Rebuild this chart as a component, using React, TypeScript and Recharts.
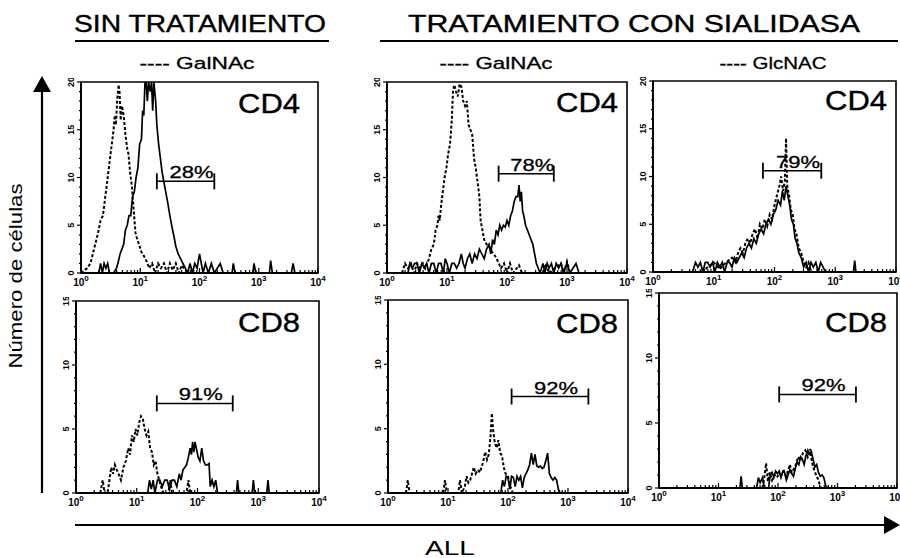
import React from 'react';
import { LineChart, Line, XAxis, YAxis, ReferenceLine, ReferenceArea } from 'recharts';

type Pt = [number, number];

// x = log10 of fluorescence (10^0 .. 10^4), y = número de células

// SIN TRATAMIENTO, CD4
const SIN_CD4_SOLID: Pt[] = [
  [0.3, 0], [0.33, 1], [0.36, 0], [0.39, 1], [0.42, 0.5], [0.45, 1], [0.48, 0], [0.55, 0], [0.6, 0.5],
  [0.63, 1.2], [0.66, 2], [0.69, 2.5], [0.72, 3], [0.75, 4.5], [0.78, 5], [0.81, 6], [0.84, 6], [0.87, 8],
  [0.9, 8.5], [0.93, 10], [0.96, 11], [0.99, 13.5], [1.02, 14], [1.04, 17], [1.06, 16.5], [1.08, 20],
  [1.1, 20], [1.12, 18], [1.14, 20], [1.17, 19], [1.19, 20], [1.21, 17], [1.23, 20], [1.26, 18],
  [1.28, 15.5], [1.31, 13.5], [1.34, 12], [1.37, 10.5], [1.4, 9.5], [1.43, 8.5], [1.46, 7.5], [1.5, 6],
  [1.53, 5], [1.57, 3.8], [1.6, 2.8], [1.64, 2], [1.68, 1.5], [1.72, 1], [1.76, 0.5], [1.8, 0], [1.84, 1],
  [1.88, 0], [1.92, 1], [1.96, 0.5], [2.0, 2], [2.03, 1], [2.06, 0], [2.1, 1], [2.15, 0], [2.2, 1],
  [2.25, 0], [2.35, 1], [2.4, 0], [2.55, 0], [2.57, 1], [2.6, 0], [2.9, 0], [2.92, 1], [2.95, 0],
  [3.18, 0], [3.2, 1.3], [3.23, 0], [3.55, 0], [3.58, 1], [3.61, 0], [4, 0],
];
const SIN_CD4_DASHED: Pt[] = [
  [0, 0], [0.1, 0.5], [0.16, 1], [0.22, 2.5], [0.28, 4], [0.33, 5.5], [0.37, 6], [0.4, 7.5], [0.43, 9],
  [0.46, 10.5], [0.49, 12], [0.52, 13.5], [0.55, 15], [0.57, 16.5], [0.59, 15.5], [0.61, 18], [0.635, 19.7],
  [0.65, 19], [0.67, 16], [0.69, 17.5], [0.72, 16.5], [0.75, 14.5], [0.78, 13], [0.8, 12.5], [0.83, 10.5],
  [0.86, 9], [0.89, 6.5], [0.92, 4.2], [0.95, 3.5], [0.98, 3], [1.02, 2.2], [1.06, 1.8], [1.11, 1.2],
  [1.15, 0.5], [1.2, 1], [1.25, 0], [1.3, 1], [1.35, 0.5], [1.4, 1], [1.45, 0], [1.5, 1], [1.55, 0.3],
  [1.6, 1], [1.65, 0], [1.7, 0.8], [1.8, 0],
];

// TRATAMIENTO CON SIALIDASA, GalNAc, CD4
const SIA_GAL_CD4_SOLID: Pt[] = [
  [0.35, 0], [0.38, 1], [0.42, 0.5], [0.46, 1], [0.5, 1], [0.54, 0], [0.58, 1], [0.62, 0.5], [0.66, 1],
  [0.7, 0], [0.74, 1], [0.78, 1], [0.82, 0], [0.86, 1], [0.9, 1], [0.94, 0], [0.97, 1.5], [1.0, 1],
  [1.04, 0], [1.08, 1], [1.12, 1], [1.16, 0.5], [1.2, 1], [1.24, 2], [1.27, 1], [1.3, 0.5], [1.34, 1.5],
  [1.38, 2], [1.42, 1], [1.46, 2], [1.5, 1.5], [1.54, 2.5], [1.58, 2], [1.62, 1.5], [1.66, 2.5], [1.7, 3],
  [1.73, 2], [1.76, 3.5], [1.79, 3], [1.82, 4.5], [1.85, 4], [1.88, 5], [1.91, 4.5], [1.94, 5], [1.97, 4.8],
  [2.0, 5.5], [2.03, 5], [2.06, 6], [2.09, 6.5], [2.12, 7.5], [2.15, 8], [2.18, 8], [2.2, 9.2], [2.22, 7.5],
  [2.24, 8.5], [2.26, 6.5], [2.28, 6], [2.31, 5], [2.34, 4.5], [2.37, 4], [2.4, 3.5], [2.43, 3], [2.46, 2],
  [2.49, 1], [2.52, 0.5], [2.55, 0], [2.6, 1], [2.63, 0], [2.67, 1], [2.7, 0.5], [2.74, 1], [2.78, 0],
  [2.82, 1], [2.86, 0.5], [2.9, 1], [2.94, 0], [3.0, 1], [3.05, 0], [3.15, 1], [3.2, 0],
];
const SIA_GAL_CD4_DASHED: Pt[] = [
  [0.25, 0], [0.3, 1], [0.35, 0.5], [0.4, 1], [0.45, 0], [0.5, 1], [0.55, 0.5], [0.6, 1], [0.64, 0.5],
  [0.67, 1], [0.7, 1.5], [0.74, 2.5], [0.78, 3], [0.81, 4.5], [0.84, 5], [0.86, 6], [0.88, 5.5], [0.9, 7],
  [0.93, 8.5], [0.96, 10], [0.99, 11], [1.02, 12.5], [1.05, 13.5], [1.08, 16], [1.1, 19], [1.12, 19.7],
  [1.15, 19], [1.18, 18.5], [1.21, 19.8], [1.24, 19.5], [1.27, 18], [1.3, 17.5], [1.33, 18], [1.36, 15.5],
  [1.39, 15], [1.42, 14.5], [1.45, 12], [1.48, 11], [1.51, 9.5], [1.54, 8], [1.56, 5.5], [1.59, 4.5],
  [1.62, 3.5], [1.66, 3], [1.7, 2.8], [1.75, 2.2], [1.8, 1.8], [1.85, 1.2], [1.9, 0.5], [1.95, 1],
  [2.0, 0], [2.05, 1], [2.1, 0], [2.2, 0.8], [2.25, 0], [2.6, 0], [2.65, 1], [2.7, 0], [2.9, 1], [2.95, 0],
  [3.0, 1.2], [3.05, 0],
];

// TRATAMIENTO CON SIALIDASA, GlcNAC, CD4
const SIA_GLC_CD4_SOLID: Pt[] = [
  [0.65, 0], [0.7, 1], [0.74, 0.5], [0.78, 1], [0.82, 0], [0.86, 1], [0.9, 1], [0.94, 0.5], [0.98, 1],
  [1.02, 0], [1.06, 1], [1.1, 0.5], [1.14, 1], [1.18, 0], [1.22, 1], [1.26, 1], [1.3, 0.5], [1.34, 1.5],
  [1.38, 1], [1.42, 1.5], [1.46, 2], [1.5, 1.5], [1.54, 2.5], [1.58, 3], [1.62, 2.5], [1.66, 3.5], [1.7, 3],
  [1.74, 4], [1.78, 4.5], [1.82, 4], [1.86, 5], [1.9, 5.5], [1.94, 5], [1.98, 6], [2.02, 6.5], [2.06, 7.5],
  [2.1, 7], [2.13, 8.5], [2.16, 7.5], [2.19, 9], [2.22, 8], [2.25, 7], [2.28, 5.5], [2.31, 5], [2.34, 3.5],
  [2.37, 3], [2.4, 2], [2.44, 1.5], [2.48, 0.5], [2.52, 1], [2.56, 0], [2.6, 1], [2.64, 0.5], [2.68, 1],
  [2.72, 0], [2.76, 1], [2.8, 0.5], [2.84, 0], [3.3, 0], [3.32, 1.2], [3.34, 0],
];
const SIA_GLC_CD4_DASHED: Pt[] = [
  [0.8, 0], [0.9, 0.5], [1.0, 1], [1.1, 0.3], [1.2, 1], [1.3, 1.5], [1.36, 1], [1.4, 2], [1.44, 2.5],
  [1.48, 2], [1.52, 3], [1.56, 3.5], [1.6, 3], [1.64, 4], [1.68, 4.5], [1.72, 3.5], [1.76, 5], [1.8, 4.5],
  [1.84, 5.5], [1.88, 4.8], [1.92, 6], [1.96, 5.5], [2.0, 7], [2.04, 8], [2.08, 9], [2.11, 10], [2.14, 8.5],
  [2.17, 9.5], [2.19, 14], [2.21, 9], [2.24, 8], [2.27, 6.5], [2.3, 6], [2.33, 4.5], [2.36, 4], [2.4, 2.5],
  [2.44, 2], [2.48, 1], [2.52, 0.5], [2.56, 1], [2.6, 0],
];

// SIN TRATAMIENTO, CD8
const SIN_CD8_SOLID: Pt[] = [
  [1.18, 0], [1.21, 1], [1.24, 0.3], [1.27, 1], [1.3, 0], [1.34, 1], [1.38, 1], [1.42, 0.5], [1.46, 1],
  [1.5, 1], [1.54, 0.3], [1.58, 1], [1.62, 1], [1.66, 0.5], [1.7, 1.5], [1.73, 1], [1.76, 1.8], [1.79, 2],
  [1.82, 2.2], [1.85, 2.8], [1.88, 3.5], [1.9, 3], [1.92, 4], [1.94, 3.2], [1.96, 4], [1.98, 3.5],
  [2.01, 2.8], [2.04, 2.5], [2.07, 3.5], [2.1, 2.5], [2.13, 2.2], [2.16, 2.2], [2.19, 2.3], [2.21, 0.5],
  [2.24, 1], [2.27, 0.5], [2.3, 1], [2.33, 0], [2.64, 0], [2.66, 1], [2.68, 0], [2.9, 0], [2.92, 1],
  [2.94, 0], [3.14, 0], [3.16, 1], [3.18, 0],
];
const SIN_CD8_DASHED: Pt[] = [
  [0.4, 0], [0.44, 1], [0.47, 0], [0.52, 0], [0.55, 1], [0.58, 2], [0.61, 1.5], [0.64, 2.2], [0.67, 1.8],
  [0.7, 1.5], [0.74, 1], [0.78, 2], [0.82, 2.5], [0.86, 3.5], [0.89, 3], [0.92, 4.5], [0.95, 4], [0.98, 5],
  [1.01, 4.5], [1.04, 5.5], [1.07, 6], [1.1, 5.8], [1.13, 5], [1.16, 4.5], [1.19, 4.8], [1.22, 3.5],
  [1.25, 3.2], [1.28, 2.2], [1.31, 2.5], [1.34, 1.5], [1.37, 1], [1.4, 0.5], [1.44, 0], [1.52, 0],
  [1.55, 1], [1.58, 0], [1.82, 0], [1.85, 1], [1.88, 0],
];

// TRATAMIENTO CON SIALIDASA, GalNAc, CD8
const SIA_GAL_CD8_SOLID: Pt[] = [
  [1.88, 0], [1.91, 1], [1.94, 0.5], [1.97, 1.3], [2.0, 1.2], [2.03, 0.3], [2.06, 1.3], [2.09, 1.2],
  [2.12, 0.5], [2.15, 1.3], [2.18, 1], [2.21, 1.3], [2.24, 0.4], [2.27, 1.2], [2.3, 1.5], [2.33, 1.8],
  [2.36, 2.2], [2.39, 3.1], [2.42, 2.2], [2.45, 3], [2.48, 2.1], [2.51, 2], [2.54, 2.1], [2.57, 1.9],
  [2.6, 2], [2.63, 2.5], [2.66, 3.1], [2.69, 1.5], [2.72, 1.2], [2.75, 1], [2.78, 1.2], [2.81, 1],
  [2.84, 0.3], [2.87, 0],
];
const SIA_GAL_CD8_DASHED: Pt[] = [
  [0.3, 0], [0.33, 1], [0.36, 0], [0.92, 0], [0.95, 1], [0.98, 0], [1.17, 0], [1.2, 1], [1.23, 0],
  [1.28, 0.5], [1.31, 1.3], [1.34, 0.8], [1.37, 1], [1.4, 1.5], [1.43, 2], [1.46, 1.5], [1.5, 1.8],
  [1.53, 1.6], [1.56, 2], [1.59, 2.5], [1.62, 3.2], [1.65, 2.6], [1.68, 3], [1.71, 4.5], [1.73, 6.2],
  [1.75, 5], [1.78, 3.9], [1.81, 3.5], [1.84, 4.1], [1.87, 3.1], [1.9, 2.9], [1.93, 2], [1.96, 1.5],
  [2.0, 1.3], [2.04, 0.5], [2.08, 0],
];

// TRATAMIENTO CON SIALIDASA, GlcNAC, CD8
const SIA_GLC_CD8_SOLID: Pt[] = [
  [1.36, 0], [1.38, 0.9], [1.4, 0], [1.64, 0], [1.67, 0.8], [1.7, 0.4], [1.74, 0.8], [1.77, 0], [1.84, 0],
  [1.87, 1], [1.9, 1.2], [1.93, 0.8], [1.96, 1.3], [1.99, 1.1], [2.02, 1.3], [2.05, 0.8], [2.08, 1.3],
  [2.11, 1.2], [2.14, 0.6], [2.17, 1], [2.2, 1.4], [2.23, 1.1], [2.26, 0.9], [2.29, 1.5], [2.32, 2],
  [2.35, 1.8], [2.38, 2.4], [2.41, 2.2], [2.44, 1.8], [2.47, 2.5], [2.5, 2.9], [2.53, 2.6], [2.56, 2.8],
  [2.59, 2.2], [2.62, 1.6], [2.65, 1.8], [2.68, 1.2], [2.71, 0.9], [2.74, 1], [2.77, 0.8], [2.8, 0.2],
  [2.83, 0],
];
const SIA_GLC_CD8_DASHED: Pt[] = [
  [1.74, 0], [1.77, 0.8], [1.8, 1.9], [1.83, 0.5], [1.86, 1.2], [1.9, 0.6], [1.94, 1], [1.98, 0.8],
  [2.02, 1.1], [2.06, 1], [2.1, 1.3], [2.14, 0.9], [2.18, 1.5], [2.2, 1.8], [2.23, 1.2], [2.26, 1.4],
  [2.3, 1.8], [2.34, 2.4], [2.38, 2.1], [2.42, 2.7], [2.46, 2.9], [2.5, 2.4], [2.54, 3], [2.57, 2],
  [2.6, 1.5], [2.64, 1], [2.68, 0.6], [2.72, 0],
];

// marker gates (log10 from, log10 to, height) and percentages
const GATE_LO = [1.28, 1.86, 1.81, 1.33, 2.06, 2.02];
const GATE_HI = [2.25, 2.78, 2.77, 2.58, 3.34, 3.31];
const GATE_Y = [9.6, 10.4, 10.6, 7.0, 7.5, 7.2];
const GATE_PCT = ['28%', '78%', '79%', '91%', '92%', '92%'];
const MARKERS = ['CD4', 'CD4', 'CD4', 'CD8', 'CD8', 'CD8'];
const Y_MAX = [20, 20, 20, 15, 15, 15];
const SOLID = [SIN_CD4_SOLID, SIA_GAL_CD4_SOLID, SIA_GLC_CD4_SOLID, SIN_CD8_SOLID, SIA_GAL_CD8_SOLID, SIA_GLC_CD8_SOLID];
const DASHED = [SIN_CD4_DASHED, SIA_GAL_CD4_DASHED, SIA_GLC_CD4_DASHED, SIN_CD8_DASHED, SIA_GAL_CD8_DASHED, SIA_GLC_CD8_DASHED];

const TITLES = ['SIN TRATAMIENTO', 'TRATAMIENTO CON SIALIDASA'];
const LEGENDS = ['---- GalNAc', '---- GalNAc', '---- GlcNAC'];
const X_DECADES = [0, 1, 2, 3, 4];
const MINOR = [2, 3, 4, 5, 6, 7, 8, 9];

// plot boxes in page pixels
const BOXES = [
  { l: 81, t: 82, r: 318, b: 273, tagX: 300, tagY: 113 },
  { l: 387, t: 82, r: 627, b: 273, tagX: 618, tagY: 112 },
  { l: 653, t: 81, r: 896, b: 272, tagX: 887, tagY: 110 },
  { l: 76, t: 301, r: 319, b: 493, tagX: 300, tagY: 332 },
  { l: 388, t: 300, r: 628, b: 493, tagX: 618, tagY: 333 },
  { l: 659, t: 293, r: 897, b: 488, tagX: 887, tagY: 332 },
];

const FONT = '"Liberation Sans", Arial, sans-serif';
const YW = 30;
const XH = 24;
const MT = 4;
const MR = 14;

const X_TICKS: number[] = [];
X_DECADES.forEach(d => {
  X_TICKS.push(d);
  if (d < 4) MINOR.forEach(m => X_TICKS.push(d + Math.log10(m)));
});

const XTick = (props: any) => {
  const { x, y, payload } = props;
  const v = payload.value;
  const major = Math.abs(v - Math.round(v)) < 1e-6;
  return (
    <g>
      <line x1={x} y1={y} x2={x} y2={y - (major ? 5 : 3)} stroke="#000" strokeWidth={1.2} />
      {major && (
        <text x={x} y={y + 13} textAnchor="middle" fontSize={10} fontWeight="bold" fontFamily={FONT} fill="#000">
          10<tspan dy={-5} fontSize={8}>{Math.round(v)}</tspan>
        </text>
      )}
    </g>
  );
};

const YTick = (props: any) => {
  const { x, y, payload } = props;
  const v = payload.value;
  const major = v % 5 === 0;
  return (
    <g>
      <line x1={x - (major ? 4 : 2)} y1={y} x2={x} y2={y} stroke="#000" strokeWidth={1.2} />
      {major && (
        <text x={x - 10} y={y} transform={`rotate(-90 ${x - 10} ${y})`} textAnchor="middle" dy={3}
          fontSize={9} fontWeight="bold" fontFamily={FONT} fill="#000">{v}</text>
      )}
    </g>
  );
};

const GateShape = (props: any) => {
  const { x1, y1, x2, label } = props;
  const h = 8;
  return (
    <g>
      <line x1={x1} y1={y1} x2={x2} y2={y1} stroke="#000" strokeWidth={1.5} />
      <line x1={x1} y1={y1 - h} x2={x1} y2={y1 + h} stroke="#000" strokeWidth={1.8} />
      <line x1={x2} y1={y1 - h} x2={x2} y2={y1 + h} stroke="#000" strokeWidth={1.8} />
      <text x={(x1 + x2) / 2 + 6} y={y1 - 3} textAnchor="middle" fontSize={17} fontFamily={FONT} fill="#000"
        stroke="#000" strokeWidth={0.3} textLength={44} lengthAdjust="spacingAndGlyphs">{label}</text>
    </g>
  );
};

function Panel({ i }: { i: number }) {
  const box = BOXES[i];
  const yMax = Y_MAX[i];
  const yTicks = Array.from({ length: yMax + 1 }, (_, k) => k);
  const solid = SOLID[i].map(([x, y]) => ({ x, y }));
  const dashed = DASHED[i].map(([x, y]) => ({ x, y }));
  const w = box.r - box.l + YW + MR;
  const h = box.b - box.t + MT + XH;
  return (
    <div style={{ position: 'absolute', left: box.l - YW, top: box.t - MT }}>
      <LineChart width={w} height={h} margin={{ top: MT, right: MR, left: 0, bottom: 0 }}>
        <XAxis type="number" dataKey="x" domain={[0, 4]} ticks={X_TICKS} interval={0} allowDataOverflow
          height={XH} tickSize={0} tickMargin={0} tick={<XTick />} axisLine={{ stroke: '#000', strokeWidth: 2 }} />
        <YAxis type="number" domain={[0, yMax]} ticks={yTicks} interval={0} allowDataOverflow
          width={YW} tickSize={0} tickMargin={0} tick={<YTick />} axisLine={{ stroke: '#000', strokeWidth: 1.8 }} />
        <ReferenceArea x1={0} x2={4} y1={0} y2={yMax} fill="none" stroke="#000" strokeWidth={1.6} />
        <Line data={dashed} dataKey="y" type="linear" stroke="#000" strokeWidth={2} strokeDasharray="3 2"
          dot={false} isAnimationActive={false} />
        <Line data={solid} dataKey="y" type="linear" stroke="#000" strokeWidth={1.7}
          dot={false} isAnimationActive={false} />
        <ReferenceLine segment={[{ x: GATE_LO[i], y: GATE_Y[i] }, { x: GATE_HI[i], y: GATE_Y[i] }]}
          shape={(p: any) => <GateShape {...p} label={GATE_PCT[i]} />} />
      </LineChart>
    </div>
  );
}

export default function App() {
  return (
    <div style={{ position: 'relative', width: 900, height: 558, overflow: 'hidden', background: '#fff' }}>
      <style>{'body{margin:0}'}</style>
      {BOXES.map((_, i) => <Panel key={i} i={i} />)}
      <svg width={900} height={558} style={{ position: 'absolute', left: 0, top: 0, pointerEvents: 'none' }}
        fontFamily={FONT} fill="#000">
        <text x={200} y={32} textAnchor="middle" fontSize={24} stroke="#000" strokeWidth={0.4}
          textLength={252} lengthAdjust="spacingAndGlyphs">{TITLES[0]}</text>
        <line x1={75} y1={41} x2={329} y2={41} stroke="#000" strokeWidth={1.8} />
        <text x={634} y={32} textAnchor="middle" fontSize={24} stroke="#000" strokeWidth={0.4}
          textLength={452} lengthAdjust="spacingAndGlyphs">{TITLES[1]}</text>
        <line x1={380} y1={41} x2={898} y2={41} stroke="#000" strokeWidth={1.8} />
        <text x={197} y={69} textAnchor="middle" fontSize={17} stroke="#000" strokeWidth={0.3}
          textLength={115} lengthAdjust="spacingAndGlyphs">{LEGENDS[0]}</text>
        <text x={496} y={69} textAnchor="middle" fontSize={17} stroke="#000" strokeWidth={0.3}
          textLength={113} lengthAdjust="spacingAndGlyphs">{LEGENDS[1]}</text>
        <text x={773} y={69} textAnchor="middle" fontSize={17} stroke="#000" strokeWidth={0.3}
          textLength={107} lengthAdjust="spacingAndGlyphs">{LEGENDS[2]}</text>
        {BOXES.map((b, i) => (
          <text key={i} x={b.tagX} y={b.tagY} textAnchor="end" fontSize={28} stroke="#000" strokeWidth={0.4}
            textLength={62} lengthAdjust="spacingAndGlyphs">{MARKERS[i]}</text>
        ))}
        <line x1={42} y1={493} x2={42} y2={90} stroke="#000" strokeWidth={2.2} />
        <polygon points="33,92 51,92 42,76" fill="#000" />
        <text x={22} y={276} transform="rotate(-90 22 276)" textAnchor="middle" fontSize={18} textLength={185}
          lengthAdjust="spacingAndGlyphs">Número de células</text>
        <line x1={75} y1={525} x2={886} y2={525} stroke="#000" strokeWidth={2.2} />
        <polygon points="884,516 884,534 900,525" fill="#000" />
        <text x={450} y={555} textAnchor="middle" fontSize={21} textLength={50} lengthAdjust="spacingAndGlyphs">ALL</text>
      </svg>
    </div>
  );
}
